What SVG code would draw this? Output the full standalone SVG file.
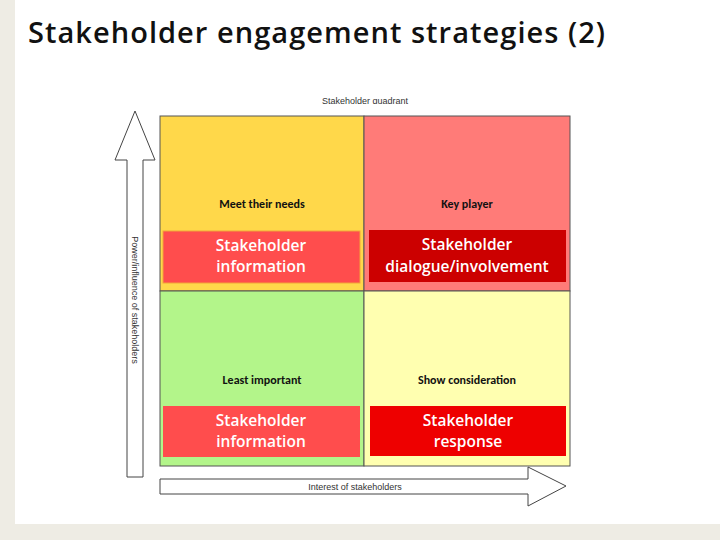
<svg xmlns="http://www.w3.org/2000/svg" width="720" height="540" viewBox="0 0 720 540">
<style>
.q{stroke:#555;stroke-width:1}
.lab{font-family:Calibri,"Liberation Sans",sans-serif;font-size:12px;font-weight:bold;text-anchor:middle;fill:#111}
.bt{font-family:"Open Sans","Liberation Sans",sans-serif;font-size:15.5px;font-weight:600;text-anchor:middle;fill:#fff}
.ax{fill:#fff;stroke:#444;stroke-width:1}
.at{font-family:"Liberation Sans",sans-serif;font-size:9px;fill:#333;text-anchor:middle}
</style>
<defs><clipPath id="c"><rect x="0" y="96" width="720" height="8"/></clipPath></defs>
<rect width="720" height="540" fill="#eeece4"/>
<rect x="15" y="0" width="705" height="524" fill="#fff"/>
<text x="28" y="43" font-family="'Open Sans','Liberation Sans',sans-serif" font-size="29" font-weight="600" textLength="577" fill="#111">Stakeholder engagement strategies (2)</text>
<text x="365" y="104" class="at" font-size="11" clip-path="url(#c)">Stakeholder quadrant</text>
<g id="axes">
<polygon class="ax" points="127,477 127,160 115,160 135,111 155,160 143,160 143,477"/>
<text class="at" transform="translate(132,300) rotate(90)">Power/influence of stakeholders</text>
<polygon class="ax" points="160,479 528,479 528,467 566,486 528,506 528,494 160,494"/>
<text class="at" x="355" y="490">Interest of stakeholders</text>
</g>
<g id="q1"><rect class="q" x="160" y="116" width="204" height="175" fill="#ffd84a"/><text class="lab" x="262" y="208">Meet their needs</text>
<rect x="163" y="231" width="197" height="52" fill="#ff4d4d" stroke="#f2a33a"/><text class="bt" x="261" y="251">Stakeholder</text><text class="bt" x="261" y="272">information</text></g>
<g id="q2"><rect class="q" x="364" y="116" width="206" height="175" fill="#ff7b78"/><text class="lab" x="467" y="208">Key player</text>
<rect x="369" y="230" width="197" height="52" fill="#cc0000"/><text class="bt" x="467" y="250">Stakeholder</text><text class="bt" x="467" y="272">dialogue/involvement</text></g>
<g id="q3"><rect class="q" x="160" y="291" width="204" height="175" fill="#b3f58a"/><text class="lab" x="262" y="384">Least important</text>
<rect x="163" y="406" width="197" height="51" fill="#ff4d4d"/><text class="bt" x="261" y="426">Stakeholder</text><text class="bt" x="261" y="447">information</text></g>
<g id="q4"><rect class="q" x="364" y="291" width="206" height="175" fill="#ffffb0"/><text class="lab" x="467" y="384">Show consideration</text>
<rect x="370" y="406" width="196" height="50" fill="#ee0000"/><text class="bt" x="468" y="426">Stakeholder</text><text class="bt" x="468" y="447">response</text></g>
</svg>
